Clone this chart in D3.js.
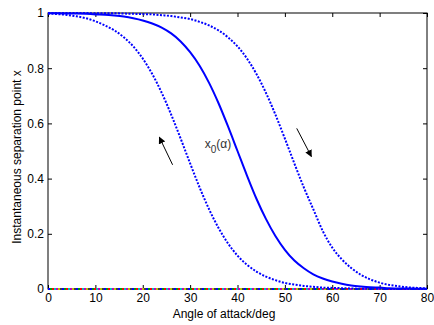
<!DOCTYPE html>
<html>
<head>
<meta charset="utf-8">
<script src="https://cdn.jsdelivr.net/npm/d3@7/dist/d3.min.js"></script>
<style>
  body { margin: 0; background: #fff; }
  svg { display: block; font-family: "Liberation Sans", Arial, sans-serif; }
</style>
</head>
<body>
<div class="chart"></div>
<script>
// angle of attack (deg), sampled every 2 deg
var angles = [0, 2, 4, 6, 8, 10, 12, 14, 16, 18, 20, 22, 24, 26, 28, 30, 32, 34, 36, 38, 40,
              42, 44, 46, 48, 50, 52, 54, 56, 58, 60, 62, 64, 66, 68, 70, 72, 74, 76, 78, 80];

// x0(alpha), solid curve
var x0Values = [0.999, 0.999, 0.998, 0.998, 0.997, 0.995, 0.994, 0.991, 0.987, 0.981, 0.973,
                0.962, 0.947, 0.926, 0.897, 0.858, 0.809, 0.747, 0.673, 0.589, 0.500,
                0.411, 0.327, 0.254, 0.192, 0.142, 0.103, 0.075, 0.053, 0.038, 0.027,
                0.019, 0.013, 0.009, 0.006, 0.005, 0.003, 0.002, 0.002, 0.001, 0.001];

// dotted curve, shifted left (alpha increasing)
var leftValues = [0.998, 0.996, 0.993, 0.988, 0.981, 0.970, 0.955, 0.937, 0.912, 0.879, 0.835,
                  0.779, 0.711, 0.632, 0.545, 0.455, 0.368, 0.289, 0.221, 0.165, 0.121,
                  0.088, 0.063, 0.045, 0.032, 0.022, 0.016, 0.011, 0.008, 0.005, 0.004,
                  0.003, 0.002, 0.001, 0.001, 0.001, 0.000, 0.000, 0.000, 0.000, 0.000];

// dotted curve, shifted right (alpha decreasing)
var rightValues = [1.000, 1.000, 1.000, 1.000, 1.000, 0.999, 0.999, 0.999, 0.998, 0.997, 0.996,
                   0.995, 0.992, 0.989, 0.984, 0.978, 0.968, 0.955, 0.937, 0.912, 0.879,
                   0.835, 0.779, 0.711, 0.632, 0.545, 0.455, 0.368, 0.289, 0.210, 0.150,
                   0.108, 0.076, 0.052, 0.035, 0.023, 0.015, 0.010, 0.006, 0.004, 0.002];

// many flat series sitting at zero along the x axis
var zeroColors = ["#0000ff", "#00a000", "#ff0000", "#00bfbf", "#bf00bf", "#bfbf00", "#404040"];

var xTicks = [0, 10, 20, 30, 40, 50, 60, 70, 80];
var yTicks = [0, 0.2, 0.4, 0.6, 0.8, 1];

// annotations: [x1, y1, x2, y2] in data units, arrow head at the end
var arrows = [[26.3, 0.45, 23.5, 0.55], [52.5, 0.582, 55.6, 0.48]];
var curveLabel = {x: 33.1, y: 0.511};

var svgWidth = 434;
var svgHeight = 325;
var margin = {top: 13, right: 7, bottom: 36, left: 48};
var w = svgWidth - margin.left - margin.right;
var h = svgHeight - margin.top - margin.bottom;

var svg = d3.select(".chart").append("svg")
  .attr("width", svgWidth)
  .attr("height", svgHeight);

svg.append("defs").append("marker")
  .attr("id", "head")
  .attr("viewBox", "0 0 10 10")
  .attr("refX", 9).attr("refY", 5)
  .attr("markerWidth", 7).attr("markerHeight", 7)
  .attr("markerUnits", "userSpaceOnUse")
  .attr("orient", "auto")
  .append("path")
    .attr("d", "M0,0L10,5L0,10z")
    .attr("fill", "#000");

var g = svg.append("g")
  .attr("transform", "translate(" + margin.left + "," + margin.top + ")");

var x = d3.scaleLinear().domain([0, 80]).range([0, w]);
var y = d3.scaleLinear().domain([0, 1]).range([h, 0]);

var fmtY = function(d){ return d === 0 || d === 1 ? d : d3.format(".1f")(d); };

// axes, ticks pointing inward on all four sides
g.append("g")
  .attr("transform", "translate(0," + h + ")")
  .call(d3.axisBottom(x).tickValues(xTicks).tickSizeInner(-4).tickSizeOuter(0).tickPadding(4));
g.append("g")
  .call(d3.axisLeft(y).tickValues(yTicks).tickFormat(fmtY).tickSizeInner(-4).tickSizeOuter(0).tickPadding(4));
g.append("g")
  .call(d3.axisTop(x).tickValues(xTicks).tickFormat("").tickSizeInner(-4).tickSizeOuter(0));
g.append("g")
  .attr("transform", "translate(" + w + ",0)")
  .call(d3.axisRight(y).tickValues(yTicks).tickFormat("").tickSizeInner(-4).tickSizeOuter(0));

g.selectAll(".domain").remove();
g.selectAll(".tick line").attr("stroke", "#000").attr("stroke-width", 1);
g.selectAll(".tick text")
  .attr("fill", "#000")
  .style("font-size", "12px")
  .style("font-family", "'Liberation Sans', Arial, sans-serif");

g.append("rect")
  .attr("width", w)
  .attr("height", h)
  .attr("fill", "none")
  .attr("stroke", "#000")
  .attr("stroke-width", 1);

var line = function(vals){
  return d3.line()
    .x(function(d, i){ return x(angles[i]); })
    .y(function(d){ return y(d); })
    .curve(d3.curveMonotoneX)(vals);
};

// zero series
zeroColors.forEach(function(c, i){
  g.append("path")
    .attr("d", line(angles.map(function(){ return 0; })))
    .attr("fill", "none")
    .attr("stroke", c)
    .attr("stroke-width", 2)
    .attr("stroke-dasharray", "2,12")
    .attr("stroke-dashoffset", -i * 2);
});

g.append("path")
  .attr("d", line(leftValues))
  .attr("fill", "none")
  .attr("stroke", "#0000ff")
  .attr("stroke-width", 2)
  .attr("stroke-dasharray", "2,1.5");

g.append("path")
  .attr("d", line(rightValues))
  .attr("fill", "none")
  .attr("stroke", "#0000ff")
  .attr("stroke-width", 2)
  .attr("stroke-dasharray", "2,1.5");

g.append("path")
  .attr("d", line(x0Values))
  .attr("fill", "none")
  .attr("stroke", "#0000ff")
  .attr("stroke-width", 2);

// arrows
g.selectAll(".arrow")
  .data(arrows)
  .enter()
  .append("line")
    .attr("class", "arrow")
    .attr("x1", function(d){ return x(d[0]); })
    .attr("y1", function(d){ return y(d[1]); })
    .attr("x2", function(d){ return x(d[2]); })
    .attr("y2", function(d){ return y(d[3]); })
    .attr("stroke", "#000")
    .attr("stroke-width", 1)
    .attr("marker-end", "url(#head)");

// curve label x0(alpha)
var lbl = g.append("text")
  .attr("x", x(curveLabel.x))
  .attr("y", y(curveLabel.y))
  .attr("fill", "#333")
  .style("font-size", "12px");
lbl.append("tspan").text("x");
lbl.append("tspan").attr("dy", 5).style("font-size", "10px").text("0");
lbl.append("tspan").attr("dy", -5).text("(α)");

// axis titles
svg.append("text")
  .attr("x", 224)
  .attr("y", 318)
  .attr("text-anchor", "middle")
  .style("font-size", "12px")
  .text("Angle of attack/deg");

svg.append("text")
  .attr("transform", "translate(21,157) rotate(-90)")
  .attr("text-anchor", "middle")
  .style("font-size", "12px")
  .text("Instantaneous separation point x");
</script>
</body>
</html>
